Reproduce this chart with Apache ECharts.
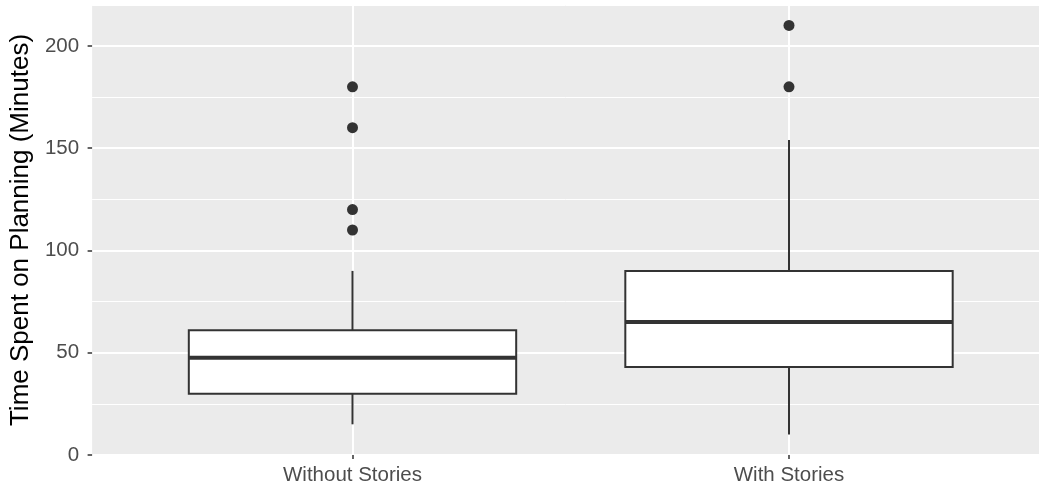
<!DOCTYPE html>
<html><head><meta charset="utf-8">
<script src="https://cdn.jsdelivr.net/npm/echarts@6/dist/echarts.min.js"></script>
<style>html,body{margin:0;padding:0;background:#fff}#c{width:1039px;height:486px}</style>
</head><body><div id="c"></div>
<script>
const categories = ['Without Stories', 'With Stories'];
const whiskerLow = [15, 10];
const q1 = [30, 43];
const median = [47.5, 65];
const q3 = [61, 90];
const whiskerHigh = [90, 154];
const outliersWithout = [110, 120, 160, 180];
const outliersWith = [180, 210];
const yTicks = [0, 50, 100, 150, 200];
const yTitle = 'Time Spent on Planning (Minutes)';

const FONT = '"Liberation Sans", Arial, Helvetica, sans-serif';
const Y_MIN = 0, Y_MAX = 220;

const boxData = categories.map((c, i) => [i, whiskerLow[i], q1[i], median[i], q3[i], whiskerHigh[i]]);
const outlierData = outliersWithout.map(v => [0, v]).concat(outliersWith.map(v => [1, v]));

const chart = echarts.init(document.getElementById('c'), null, {renderer: 'canvas'});
chart.setOption({
  animation: false,
  backgroundColor: '#ffffff',
  grid: [
    {left: 91, right: 0, top: 5, bottom: 31, show: true, backgroundColor: '#EBEBEB', borderWidth: 0},
    {left: 134.25, right: 31.75, top: 5, bottom: 31, show: false}
  ],
  xAxis: [
    {gridIndex: 0, type: 'value', min: 0, max: 1, show: false},
    {gridIndex: 1, type: 'category', data: categories,
      axisLine: {show: false},
      axisTick: {show: true, alignWithLabel: true, length: 4, lineStyle: {color: '#333333', width: 1.5}},
      axisLabel: {color: '#4D4D4D', fontSize: 20.5, fontFamily: FONT, margin: 10},
      splitLine: {show: false}}
  ],
  yAxis: [
    {gridIndex: 0, type: 'value', min: Y_MIN, max: Y_MAX, interval: 50, position: 'left',
      name: yTitle, nameLocation: 'middle', nameRotate: 90, nameGap: 55,
      nameTextStyle: {color: '#000000', fontSize: 26, fontFamily: FONT},
      axisLine: {show: false},
      axisTick: {show: true, length: 4.5, customValues: yTicks, lineStyle: {color: '#333333', width: 1.5}},
      axisLabel: {color: '#4D4D4D', fontSize: 20.5, fontFamily: FONT, margin: 13, customValues: yTicks,
        formatter: v => (yTicks.indexOf(v) >= 0 ? String(v) : '')},
      splitLine: {show: true, lineStyle: {color: '#FFFFFF', width: 2}}},
    {gridIndex: 0, type: 'value', min: Y_MIN, max: Y_MAX, interval: 25, position: 'right',
      axisLine: {show: false}, axisTick: {show: false}, axisLabel: {show: false},
      splitLine: {show: true, lineStyle: {color: '#FFFFFF', width: 1}}},
    {gridIndex: 1, type: 'value', min: Y_MIN, max: Y_MAX, show: false, splitLine: {show: false}}
  ],
  series: [
    {
      type: 'custom', xAxisIndex: 1, yAxisIndex: 2, z: 2,
      data: boxData,
      encode: {x: 0, y: [1, 2, 3, 4, 5]},
      markLine: {
        z: 1, silent: true, symbol: 'none', label: {show: false},
        lineStyle: {color: '#FFFFFF', width: 2, type: 'solid'},
        data: categories.map(c => ({xAxis: c}))
      },
      renderItem: function (params, api) {
        const x = api.value(0);
        const half = api.size([1, 0])[0] * 0.375;
        const pLow = api.coord([x, api.value(1)]);
        const pQ1 = api.coord([x, api.value(2)]);
        const pMed = api.coord([x, api.value(3)]);
        const pQ3 = api.coord([x, api.value(4)]);
        const pHigh = api.coord([x, api.value(5)]);
        const dark = '#333333';
        return {
          type: 'group',
          children: [
            {type: 'line', shape: {x1: pLow[0], y1: pLow[1], x2: pQ1[0], y2: pQ1[1]}, style: {stroke: dark, lineWidth: 2}},
            {type: 'line', shape: {x1: pQ3[0], y1: pQ3[1], x2: pHigh[0], y2: pHigh[1]}, style: {stroke: dark, lineWidth: 2}},
            {type: 'rect', shape: {x: pQ3[0] - half, y: pQ3[1], width: half * 2, height: pQ1[1] - pQ3[1]},
              style: {fill: '#FFFFFF', stroke: dark, lineWidth: 2}},
            {type: 'line', shape: {x1: pMed[0] - half, y1: pMed[1], x2: pMed[0] + half, y2: pMed[1]}, style: {stroke: dark, lineWidth: 4}}
          ]
        };
      }
    },
    {
      type: 'scatter', xAxisIndex: 1, yAxisIndex: 2, z: 3,
      data: outlierData, symbol: 'circle', symbolSize: 11,
      itemStyle: {color: '#333333', opacity: 1}
    }
  ]
});
</script></body></html>
